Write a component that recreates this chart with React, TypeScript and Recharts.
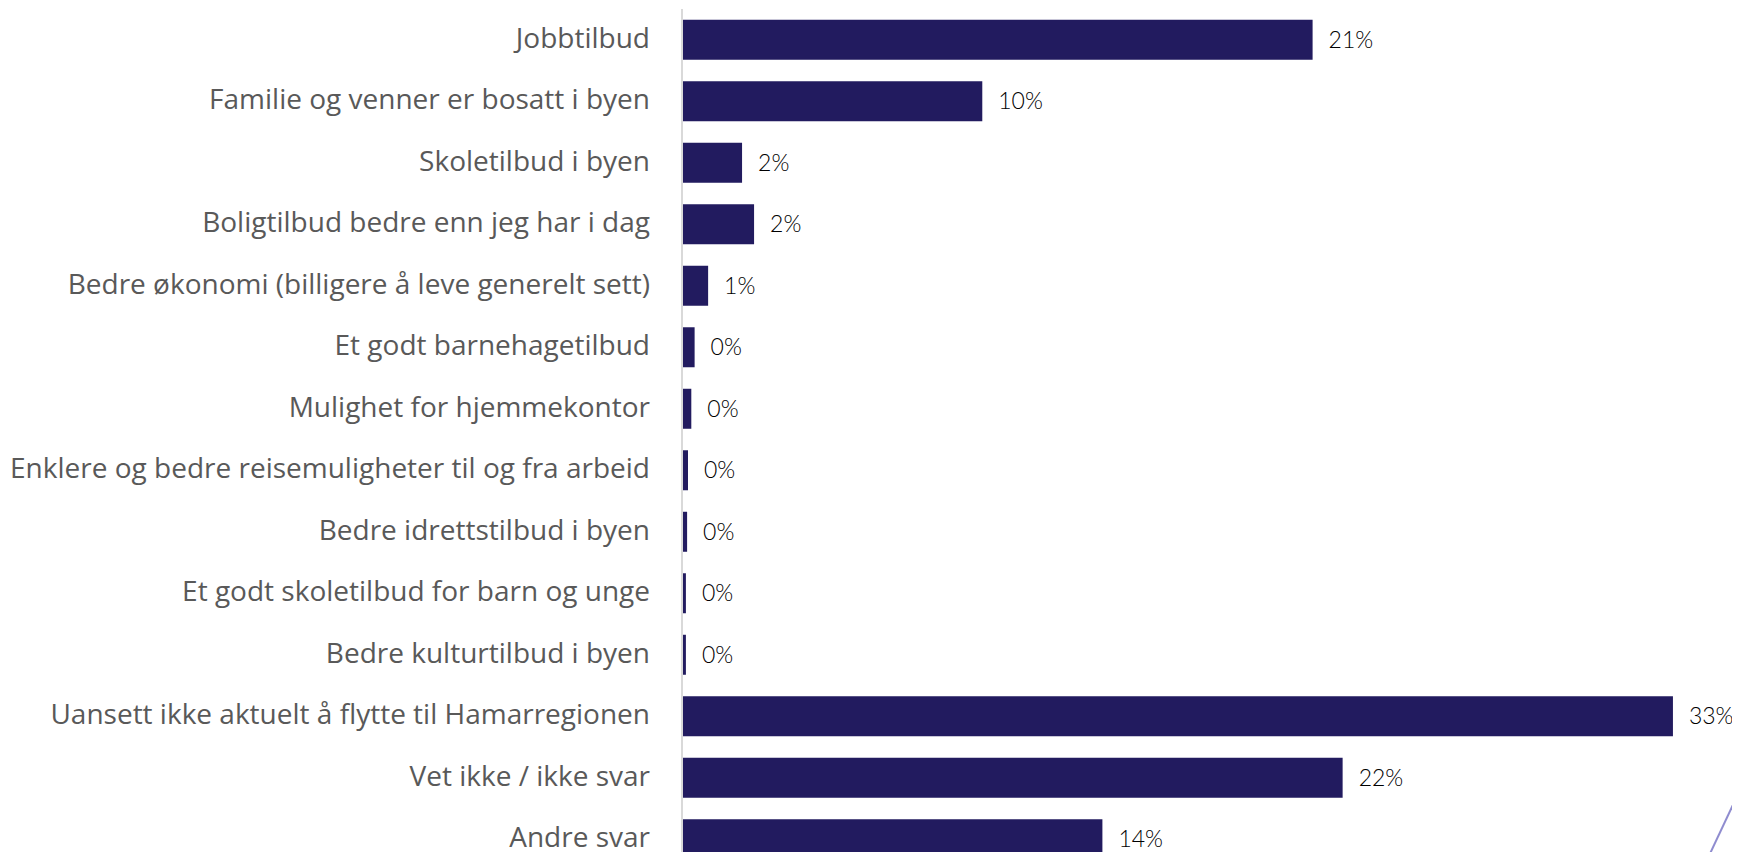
import React from 'react';
import { BarChart, Bar, XAxis, YAxis, LabelList } from 'recharts';

const categories = [
  'Jobbtilbud',
  'Familie og venner er bosatt i byen',
  'Skoletilbud i byen',
  'Boligtilbud bedre enn jeg har i dag',
  'Bedre økonomi (billigere å leve generelt sett)',
  'Et godt barnehagetilbud',
  'Mulighet for hjemmekontor',
  'Enklere og bedre reisemuligheter til og fra arbeid',
  'Bedre idrettstilbud i byen',
  'Et godt skoletilbud for barn og unge',
  'Bedre kulturtilbud i byen',
  'Uansett ikke aktuelt å flytte til Hamarregionen',
  'Vet ikke / ikke svar',
  'Andre svar',
];

const shares = [21.0, 10.0, 2.0, 2.4, 0.87, 0.42, 0.31, 0.2, 0.17, 0.13, 0.13, 33.0, 22.0, 14.0];

const data = categories.map((name, i) => ({ name, value: shares[i] }));

const fmt = (v: number) => `${Math.round(v)}%`;

export default function App() {
  return (
    <div style={{ position: 'relative', width: 1732, height: 852, marginBottom: -8, overflow: 'hidden' }}>
      <BarChart
        width={1732}
        height={862}
        data={data}
        layout="vertical"
        margin={{ top: 1, right: 7, bottom: 0, left: 0 }}
        barCategoryGap="17.5%"
      >
        <XAxis type="number" domain={[0, 35]} hide />
        <YAxis
          type="category"
          dataKey="name"
          width={674}
          axisLine={{ stroke: '#d9d9d9', strokeWidth: 2 }}
          tickLine={false}
          tickSize={0}
          tickMargin={32}
          interval={0}
          tick={{ fill: '#595959', fontSize: 28, fontFamily: '"Open Sans", sans-serif', dy: -2 }}
        />
        <Bar dataKey="value" fill="#221b5f" isAnimationActive={false}>
          <LabelList
            dataKey="value"
            position="right"
            offset={16}
            formatter={(v: any) => fmt(Number(v))}
            style={{ fill: '#000000', fontSize: 23, fontFamily: 'Lato, sans-serif', fontWeight: 300 }}
          />
        </Bar>
      </BarChart>
      <svg
        width={1732}
        height={852}
        style={{ position: 'absolute', left: 0, top: 0, pointerEvents: 'none' }}
      >
        <line x1={1732} y1={782} x2={1699} y2={852} stroke="#8f8ccf" strokeWidth={2} />
      </svg>
    </div>
  );
}
